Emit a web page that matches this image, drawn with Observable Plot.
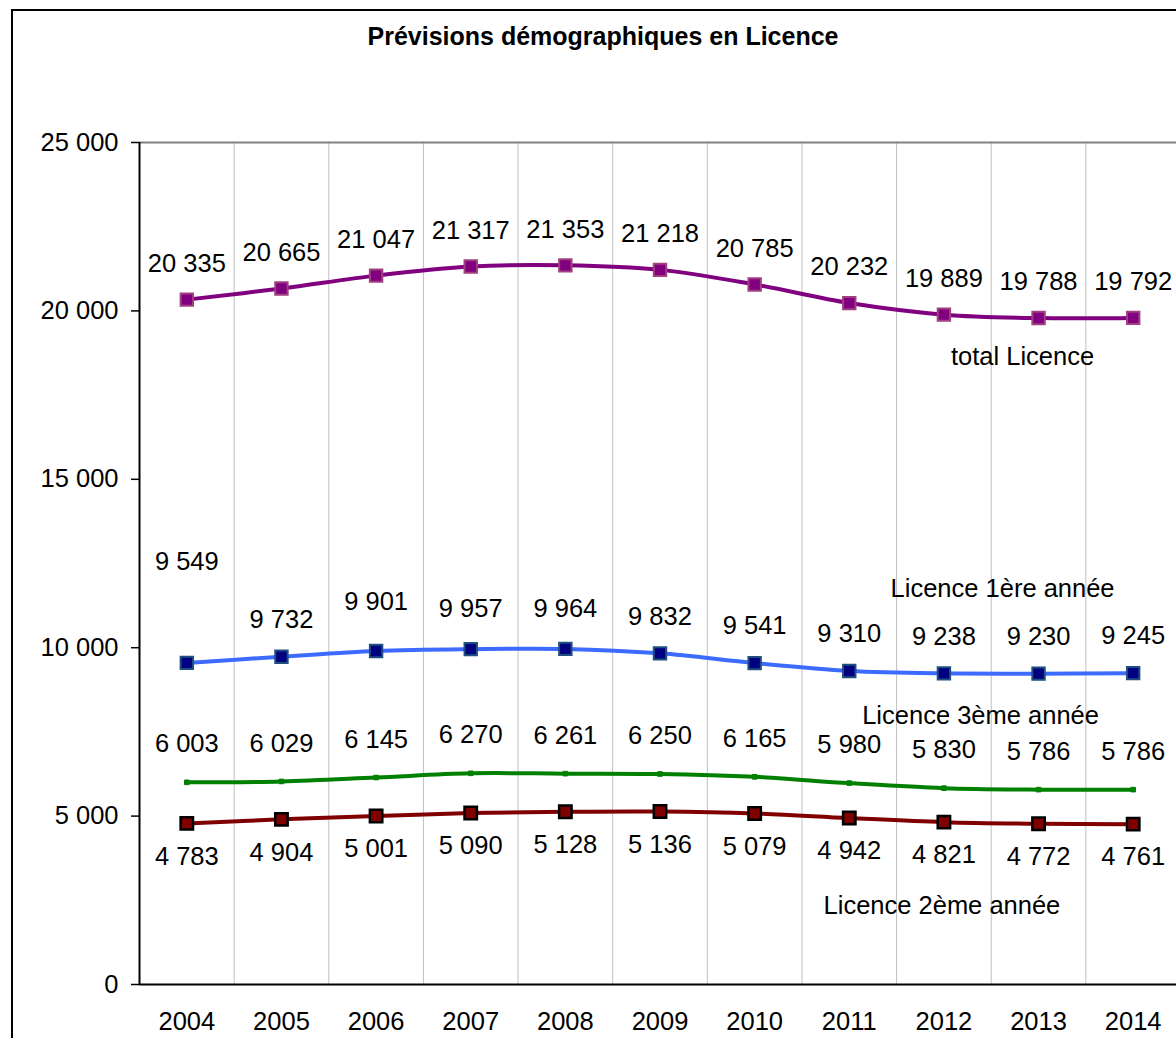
<!DOCTYPE html>
<html>
<head>
<meta charset="utf-8">
<script src="https://cdn.jsdelivr.net/npm/d3@7"></script>
<script src="https://cdn.jsdelivr.net/npm/@observablehq/plot@0.6"></script>
<style>
  html, body { margin: 0; padding: 0; background: #fff; overflow: hidden; }
  #wrap { position: relative; width: 1176px; height: 1038px; overflow: hidden; font-family: "Liberation Sans", Arial, sans-serif; }
  #frame { position: absolute; left: 11px; top: 9px; width: 1300px; height: 1200px; border: 2px solid #000; box-sizing: border-box; }
  #title { position: absolute; left: 0; top: 21px; width: 1206px; text-align: center; font-size: 25px; line-height: 30px; font-weight: bold; color: #000; }
  #chart { position: absolute; left: 0; top: 0; width: 1190px; height: 1038px; }
  #chart svg { max-width: none !important; }
</style>
</head>
<body>
<div id="wrap">
  <div id="frame"></div>
  <div id="chart"></div>
  <div id="title">Prévisions démographiques en Licence</div>
</div>
<script>
const years = [2004, 2005, 2006, 2007, 2008, 2009, 2010, 2011, 2012, 2013, 2014];
const totalLicence = [20335, 20665, 21047, 21317, 21353, 21218, 20785, 20232, 19889, 19788, 19792];
const licence1 = [9549, 9732, 9901, 9957, 9964, 9832, 9541, 9310, 9238, 9230, 9245];
const licence3 = [6003, 6029, 6145, 6270, 6261, 6250, 6165, 5980, 5830, 5786, 5786];
const licence2 = [4783, 4904, 5001, 5090, 5128, 5136, 5079, 4942, 4821, 4772, 4761];
const yTicks = [0, 5000, 10000, 15000, 20000, 25000];
const seriesNames = ["total Licence", "Licence 1ère année", "Licence 3ème année", "Licence 2ème année"];

const fmt = v => d3.format(",")(v).replace(/,/g, " ");
const rows = (arr) => years.map((y, i) => ({year: y, value: arr[i]}));
const tot = rows(totalLicence), l1 = rows(licence1), l3 = rows(licence3), l2 = rows(licence2);
const bounds = years.slice(0, -1).map(y => y + 0.5);

// label shifts as placed in the original chart (Licence 1ère année)
const l1Shift = d => d.year === 2004 ? -101 : d.year === 2006 ? -49 : (d.year === 2007 || d.year === 2008) ? -40 : -37;
const l1Groups = d3.groups(l1, l1Shift);

const FS = 25.5;
const font = "Liberation Sans, Arial, sans-serif";
const chart = Plot.plot({
  width: 1190,
  height: 1038,
  marginLeft: 139,
  marginRight: 10,
  marginTop: 142,
  marginBottom: 54,
  style: {fontFamily: font, fontSize: FS + "px", color: "#000", background: "transparent", overflow: "visible", maxWidth: "none"},
  x: {type: "linear", domain: [2003.5, 2014.5]},
  y: {domain: [0, 25000]},
  marks: [
    Plot.ruleX(bounds, {y1: 0, y2: 25000, stroke: "#c0c0c0", strokeWidth: 1}),
    Plot.ruleY([25000], {stroke: "#808080", strokeWidth: 2}),
    Plot.ruleY([0], {stroke: "#000", strokeWidth: 2}),
    Plot.ruleX([2003.5], {y1: 0, y2: 25000, stroke: "#000", strokeWidth: 2}),
    Plot.axisY({ticks: yTicks, tickFormat: fmt, tickSize: 8, tickPadding: 13, fontSize: FS, label: null, stroke: "#000", strokeWidth: 1.5}),
    Plot.axisX({ticks: years, tickFormat: d => String(d), tickSize: 0, tickPadding: 27, fontSize: FS, label: null}),

    Plot.line(tot, {x: "year", y: "value", stroke: "#800080", strokeWidth: 4, curve: "catmull-rom"}),
    Plot.line(l1, {x: "year", y: "value", stroke: "#3d6bff", strokeWidth: 4, curve: "catmull-rom"}),
    Plot.line(l3, {x: "year", y: "value", stroke: "#008000", strokeWidth: 4, curve: "catmull-rom"}),
    Plot.line(l2, {x: "year", y: "value", stroke: "#800000", strokeWidth: 4, curve: "catmull-rom"}),

    Plot.dot(tot, {x: "year", y: "value", symbol: "square", r: 7, fill: "#800080", stroke: "#a0407f", strokeWidth: 2}),
    Plot.dot(l1, {x: "year", y: "value", symbol: "square", r: 7, fill: "#000080", stroke: "#1f4f7f", strokeWidth: 2}),
    Plot.dot(l3, {x: "year", y: "value", symbol: "square", r: 2.6, fill: "#008000", stroke: "#008000", strokeWidth: 1}),
    Plot.dot(l2, {x: "year", y: "value", symbol: "square", r: 7, fill: "#800000", stroke: "#000", strokeWidth: 2.5}),

    Plot.text(tot, {x: "year", y: "value", text: d => fmt(d.value), dy: -36, fontSize: FS, fill: "#000"}),
    ...l1Groups.map(([shift, data]) =>
      Plot.text(data, {x: "year", y: "value", text: d => fmt(d.value), dy: shift, fontSize: FS, fill: "#000"})),
    Plot.text(l3, {x: "year", y: "value", text: d => fmt(d.value), dy: -38, fontSize: FS, fill: "#000"}),
    Plot.text(l2, {x: "year", y: "value", text: d => fmt(d.value), dy: 33, fontSize: FS, fill: "#000"}),

    Plot.text([tot[9]], {x: "year", y: "value", text: () => seriesNames[0], dx: -16, dy: 39, fontSize: FS, fill: "#000"}),
    Plot.text([l1[9]], {x: "year", y: "value", text: () => seriesNames[1], dx: -36, dy: -85, fontSize: FS, fill: "#000"}),
    Plot.text([l3[9]], {x: "year", y: "value", text: () => seriesNames[2], dx: -58, dy: -74, fontSize: FS, fill: "#000"}),
    Plot.text([l2[8]], {x: "year", y: "value", text: () => seriesNames[3], dx: -2, dy: 84, fontSize: FS, fill: "#000"})
  ]
});

document.getElementById("chart").appendChild(chart);
</script>
</body>
</html>
